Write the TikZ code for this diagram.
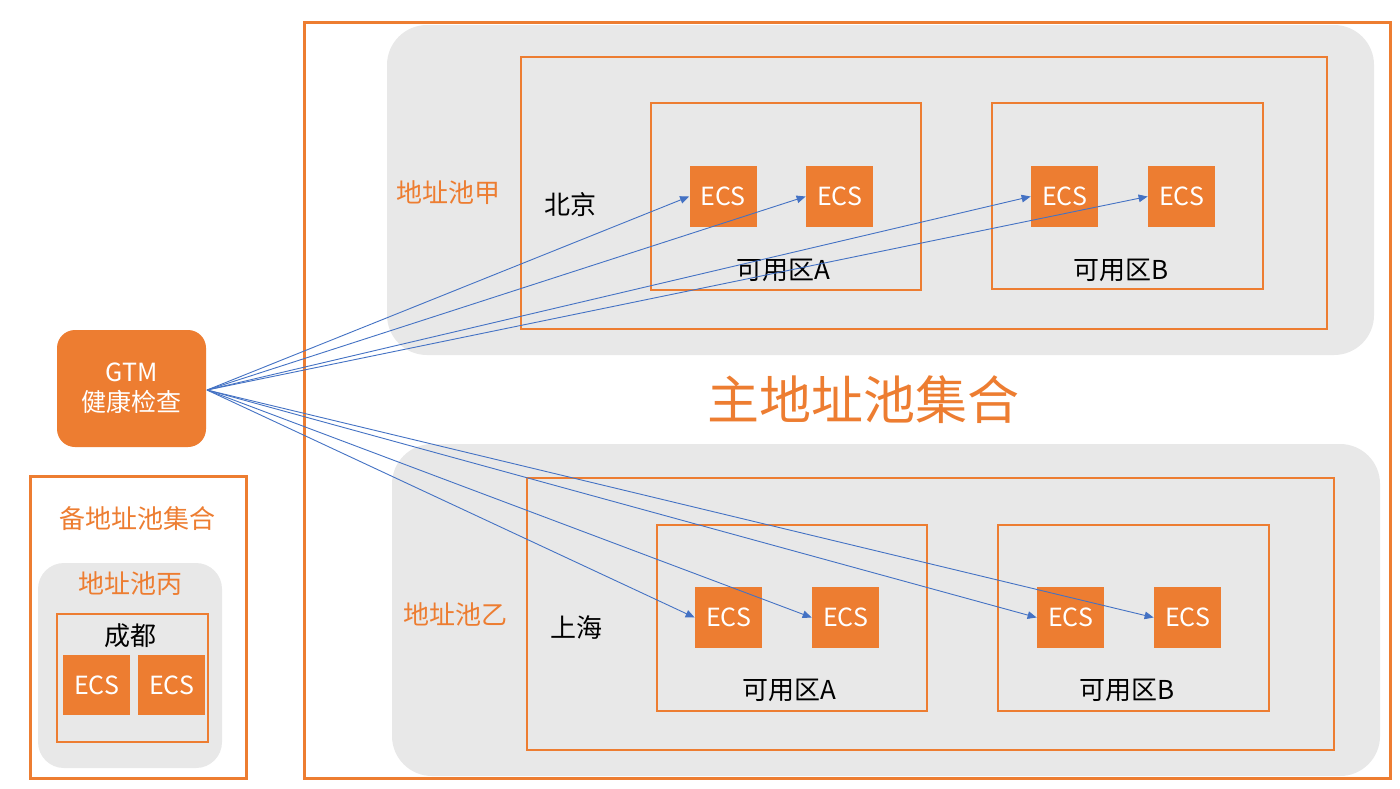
\documentclass[tikz,border=0pt]{standalone}
\usepackage{fontspec}
\setmainfont{Noto Sans CJK SC}
\usetikzlibrary{arrows.meta}
\definecolor{ora}{HTML}{ED7D31}
\definecolor{gry}{HTML}{E8E8E8}
\definecolor{blu}{HTML}{4472C4}
\begin{document}
\begin{tikzpicture}[x=0.5pt,y=-0.5pt,
  sz/.style 2 args={minimum width=#1*0.5pt,minimum height=#2*0.5pt,inner sep=0pt},
  frame/.style={draw=ora,line width=1.5pt},
  region/.style={draw=ora,line width=0.7pt},
  pool/.style={fill=gry,rounded corners=20pt},
  ecs/.style={fill=ora,text=white,sz={67}{61},font=\fontsize{12.5}{14}\selectfont},
  lbl/.style={font=\fontsize{13}{15}\selectfont,text=black},
  olbl/.style={font=\fontsize{13}{15}\selectfont,text=ora},
  link/.style={draw=blu,line width=0.45pt,-{Triangle[length=4.5pt,width=3.8pt]}}]
\useasboundingbox[fill=white] (0,0) rectangle (1400,788);
% main frame
\node[frame,sz={1086}{756}] (main) at (847,400) {};
\node[pool,sz={987}{330}] (poolA) at (880.5,190) {};
\node[pool,sz={988}{332}] (poolB) at (886,610) {};
\node[region,sz={806}{272}] (bj) at (924,193) {};
\node[region,sz={270}{187}] (bjA) at (786,196.5) {};
\node[region,sz={271}{186}] (bjB) at (1127.5,196) {};
\node[region,sz={807}{272}] (sh) at (930.5,614) {};
\node[region,sz={270}{186}] (shA) at (792,618) {};
\node[region,sz={271}{186}] (shB) at (1133.5,618) {};
% labels
\node[olbl] (lA) at (448,193) {地址池甲};
\node[lbl] (lbj) at (570,205) {北京};
\node[lbl] (lbjA) at (783,270) {可用区A};
\node[lbl] (lbjB) at (1121,270) {可用区B};
\node[text=ora,font=\fontsize{26}{30}\selectfont] (title) at (863,400) {主地址池集合};
\node[olbl] (lB) at (455,614) {地址池乙};
\node[lbl] (lsh) at (576,628) {上海};
\node[lbl] (lshA) at (789,690) {可用区A};
\node[lbl] (lshB) at (1127,690) {可用区B};
% backup
\node[frame,sz={216}{302}] (bak) at (138,627) {};
\node[olbl] (lbak) at (137,519) {备地址池集合};
\node[fill=gry,rounded corners=13pt,sz={184}{205}] (poolC) at (130,665.5) {};
\node[olbl] (lC) at (130,584) {地址池丙};
\node[region,sz={151}{128}] (cd) at (132.5,678) {};
\node[lbl] (lcd) at (130,636) {成都};
\node[ecs,sz={67}{60}] (c1) at (96.5,685) {ECS};
\node[ecs,sz={67}{60}] (c2) at (171.5,685) {ECS};
% GTM
\node[fill=ora,rounded corners=9pt,sz={149}{117},text=white,align=center,font=\fontsize{12.5}{15}\selectfont] (gtm) at (131.5,388.5) {GTM\\健康检查};
\coordinate (g) at (207,390);
% ECS
\node[ecs] (e1) at (723,196.5) {ECS};
\node[ecs] (e2) at (839.5,196.5) {ECS};
\node[ecs] (e3) at (1064.5,196.5) {ECS};
\node[ecs] (e4) at (1181.5,196.5) {ECS};
\node[ecs] (f1) at (728.5,617.5) {ECS};
\node[ecs] (f2) at (845.5,617.5) {ECS};
\node[ecs] (f3) at (1070.5,617.5) {ECS};
\node[ecs] (f4) at (1187.5,617.5) {ECS};
% links
\foreach \t in {e1,e2,e3,e4,f1,f2,f3,f4}
  \draw[link] (g) -- (\t.west);
\end{tikzpicture}
\end{document}
